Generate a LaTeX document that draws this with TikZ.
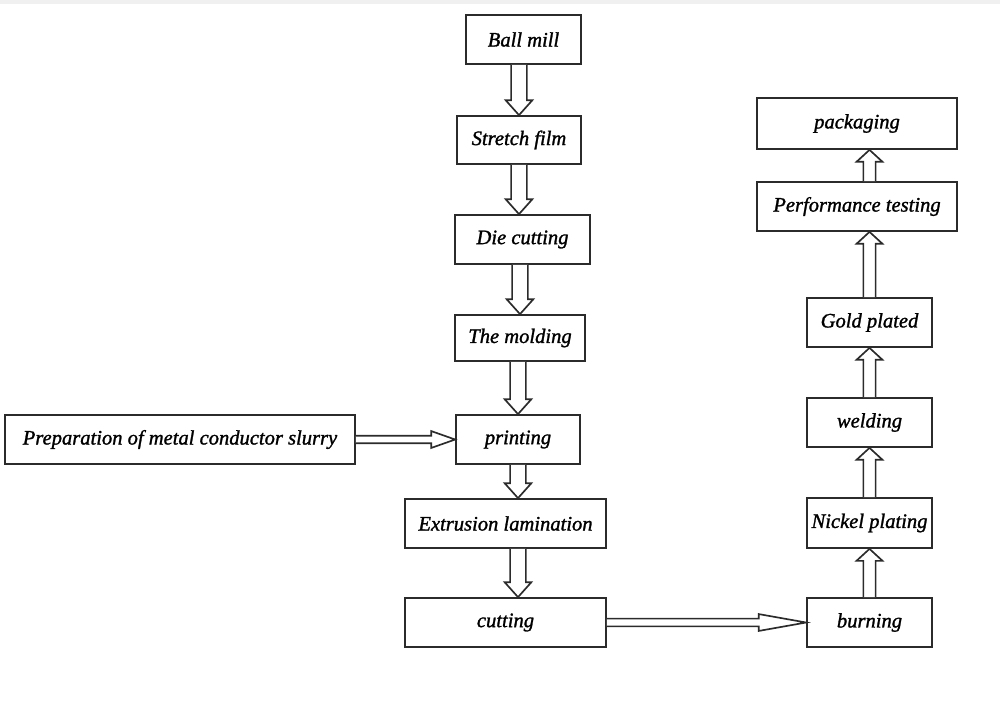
\documentclass[tikz,border=0pt]{standalone}
\usepackage{fontspec}
\setmainfont{Liberation Serif}[ItalicFeatures={FakeBold=1.3}]
\usetikzlibrary{calc}
\definecolor{lineC}{HTML}{2B2B2B}
\tikzset{
  stepbox/.style={draw=lineC,line width=1pt,fill=white,inner sep=0pt,
    font=\fontsize{11.7}{14}\selectfont\itshape},
  hollowarr/.style={draw=lineC,line width=0.95pt,line join=miter,fill=white},
}
% hollow block arrow: from, to, shaft half width, head half width, head length
\newcommand{\hollowarrow}[5]{%
  \coordinate (af) at (#1);
  \coordinate (at) at (#2);
  \coordinate (ah) at ($(at)!#5!(af)$);
  \draw[hollowarr] ($(af)!#3!90:(at)$) -- ($(ah)!#3!90:(at)$) -- ($(ah)!#4!90:(at)$) -- (at)
    -- ($(ah)!#4!-90:(at)$) -- ($(ah)!#3!-90:(at)$) -- ($(af)!#3!-90:(at)$);
}

\begin{document}
\begin{tikzpicture}[x=0.02cm,y=-0.02cm]
  \useasboundingbox (0,0) rectangle (1000,704);
  \fill[gray!12] (0,0) rectangle (1000,4);

  % main column
  \node[stepbox,minimum width=2.30cm,minimum height=0.98cm] (ball) at (523.5,39.5) {Ball mill};
  \node[stepbox,minimum width=2.48cm,minimum height=0.96cm] (stretch) at (519,140) {Stretch film};
  \node[stepbox,minimum width=2.70cm,minimum height=0.98cm] (die) at (522.5,239.5) {Die cutting};
  \node[stepbox,minimum width=2.60cm,minimum height=0.92cm] (molding) at (520,338) {The molding};
  \node[stepbox,minimum width=2.48cm,minimum height=0.98cm] (printing) at (518,439.5) {printing};
  \node[stepbox,minimum width=7.00cm,minimum height=0.98cm] (prep) at (180,439.5) {Preparation of metal conductor slurry};
  \node[stepbox,minimum width=4.02cm,minimum height=0.98cm] (extrusion) at (505.5,523.5) {Extrusion lamination};
  \node[stepbox,minimum width=4.02cm,minimum height=0.98cm] (cutting) at (505.5,622.5) {cutting};

  % right column
  \node[stepbox,minimum width=2.50cm,minimum height=0.98cm] (burning) at (869.5,622.5) {burning};
  \node[stepbox,minimum width=2.50cm,minimum height=1.00cm] (nickel) at (869.5,523) {Nickel plating};
  \node[stepbox,minimum width=2.50cm,minimum height=0.98cm] (welding) at (869.5,422.5) {welding};
  \node[stepbox,minimum width=2.50cm,minimum height=0.98cm] (gold) at (869.5,322.5) {Gold plated};
  \node[stepbox,minimum width=4.00cm,minimum height=0.98cm] (perf) at (857,206.5) {Performance testing};
  \node[stepbox,minimum width=4.00cm,minimum height=1.02cm] (pack) at (857,123.5) {packaging};

  % arrows
  \hollowarrow{ball.south -| stretch.north}{stretch.north}{4.5pt}{7.6pt}{8.5pt}
  \hollowarrow{stretch.south}{die.north -| stretch.south}{4.5pt}{7.6pt}{8.5pt}
  \hollowarrow{die.south -| molding.north}{molding.north}{4.5pt}{7.6pt}{8.5pt}
  \hollowarrow{molding.south -| printing.north}{printing.north}{4.5pt}{7.6pt}{8.5pt}
  \hollowarrow{printing.south}{extrusion.north -| printing.south}{4.5pt}{7.6pt}{8.5pt}
  \hollowarrow{extrusion.south -| printing.south}{cutting.north -| printing.south}{4.5pt}{7.6pt}{8.5pt}
  \hollowarrow{prep.east}{printing.west}{2.1pt}{4.8pt}{13.6pt}
  \hollowarrow{cutting.east}{burning.west}{2.2pt}{4.8pt}{27pt}
  \hollowarrow{burning.north}{nickel.south}{3.5pt}{7.4pt}{6.8pt}
  \hollowarrow{nickel.north}{welding.south}{3.5pt}{7.4pt}{6.8pt}
  \hollowarrow{welding.north}{gold.south}{3.5pt}{7.4pt}{6.8pt}
  \hollowarrow{gold.north}{perf.south -| gold.north}{3.5pt}{7.4pt}{6.8pt}
  \hollowarrow{perf.north -| gold.north}{pack.south -| gold.north}{3.5pt}{7.4pt}{6.8pt}
\end{tikzpicture}
\end{document}
